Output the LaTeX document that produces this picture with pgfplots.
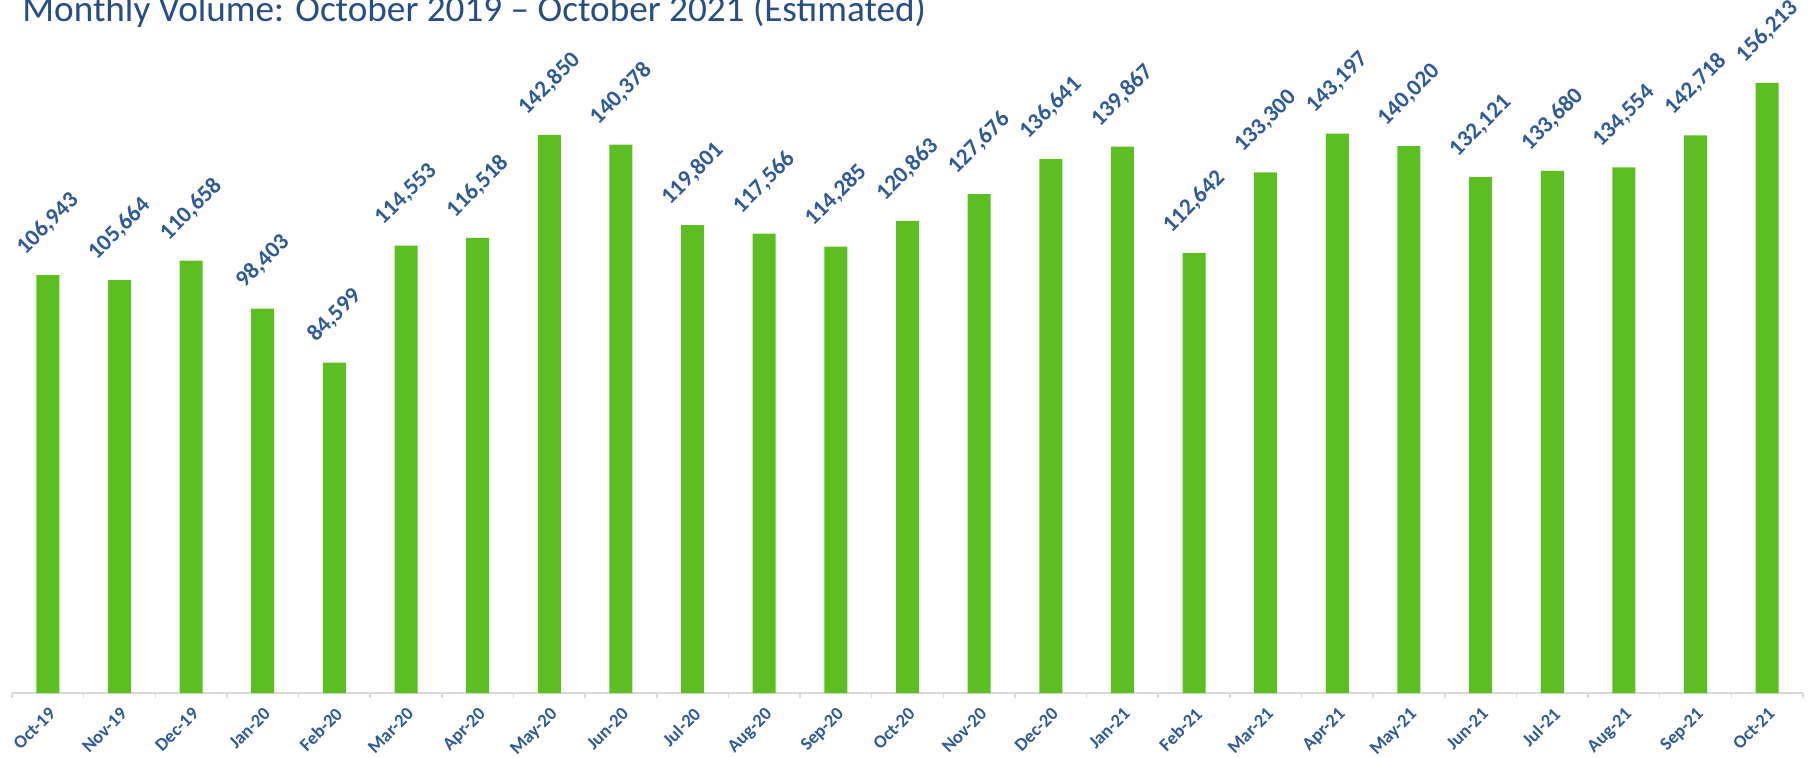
\documentclass[border=0pt]{standalone}
\usepackage{fontspec}
\setmainfont{Carlito}[BoldFont={Carlito Bold}]
\newfontfamily\boldlabel{Carlito Bold}
\usepackage{graphicx}
\usepackage{pgfplots}
\pgfplotsset{compat=1.18}

\definecolor{bargreen}{RGB}{93,190,35}
\definecolor{titleblue}{RGB}{38,78,130}
\definecolor{labelblue}{RGB}{47,90,148}
\definecolor{axisgray}{RGB}{217,217,217}

\begin{document}
\begin{tikzpicture}
\begin{axis}[
  name=ax,
  at={(0,0)}, anchor=south west,
  scale only axis,
  width=895.5pt, height=346.5pt,
  ybar, bar width=11.5pt,
  xmin=-0.5, xmax=24.5,
  ymin=0, ymax=177400,
  clip=false,
  axis x line*=bottom,
  axis y line=none,
  x axis line style={axisgray, line width=0.75pt},
  xtick={0,...,24},
  xticklabels={Oct-19,Nov-19,Dec-19,Jan-20,Feb-20,Mar-20,Apr-20,May-20,Jun-20,Jul-20,Aug-20,Sep-20,Oct-20,Nov-20,Dec-20,Jan-21,Feb-21,Mar-21,Apr-21,May-21,Jun-21,Jul-21,Aug-21,Sep-21,Oct-21},
  minor xtick={-0.5,0.5,...,24.5},
  major tick length=0pt,
  minor tick length=2.5pt,
  tick align=outside,
  minor tick style={axisgray, line width=0.75pt},
  xticklabel shift=6.5pt,
  xticklabel style={rotate=45, anchor=north east, inner sep=0pt,
    font=\boldlabel\fontsize{9.2}{11}\selectfont, text=labelblue},
  ytick=\empty,
  nodes near coords={\rotatebox{45}{\pgfmathprintnumber[fixed,precision=0,1000 sep={,},assume math mode=true]{\pgfplotspointmeta}}},
  every node near coord/.append style={anchor=south, inner sep=0pt, yshift=8.5pt,
    font=\boldlabel\fontsize{11.6}{13}\selectfont, text=labelblue},
]
\addplot[fill=bargreen, draw=none] coordinates {
(0,106943) (1,105664) (2,110658) (3,98403) (4,84599) (5,114553) (6,116518)
(7,142850) (8,140378) (9,119801) (10,117566) (11,114285) (12,120863)
(13,127676) (14,136641) (15,139867) (16,112642) (17,133300) (18,143197)
(19,140020) (20,132121) (21,133680) (22,134554) (23,142718) (24,156213)
};
\end{axis}
\node[anchor=base west, inner sep=0pt, text=titleblue, font=\fontsize{18.6}{22}\selectfont]
  at ([xshift=5pt, yshift=-11pt]ax.north west) {Monthly Volume: October 2019 – October 2021 (Estimated)};
\pgfresetboundingbox
\path[use as bounding box] ([xshift=-6pt, yshift=-32pt]ax.south west) rectangle ([xshift=3.5pt]ax.north east);
\end{tikzpicture}
\end{document}
